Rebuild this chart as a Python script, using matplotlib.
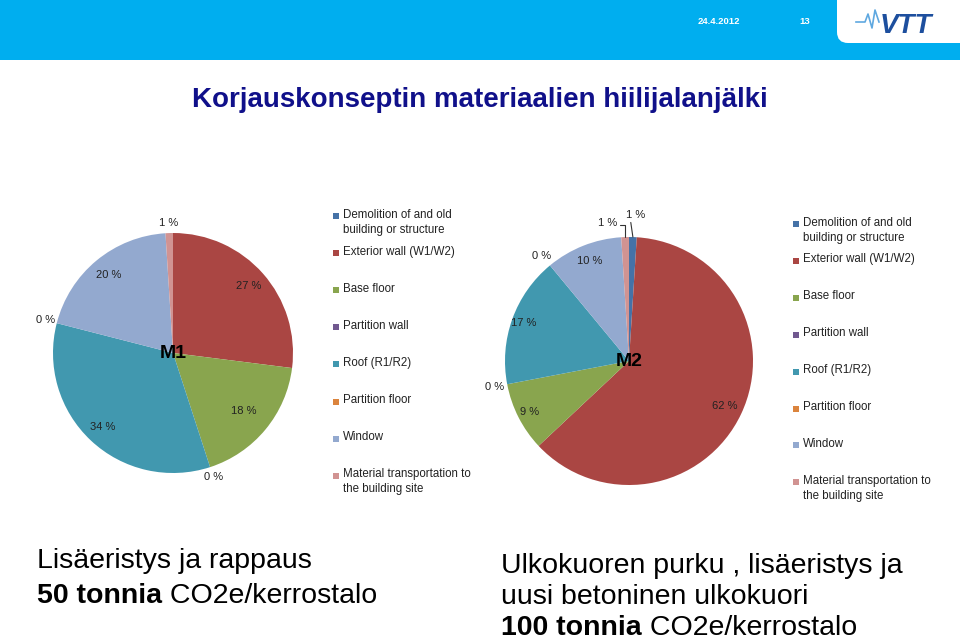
import matplotlib
matplotlib.use("Agg")
import matplotlib.pyplot as plt
from matplotlib.patches import Rectangle, FancyBboxPatch
import numpy as np

plt.rcParams['font.family'] = ['Liberation Sans', 'DejaVu Sans']

# data
categories = ["Demolition of and old\nbuilding or structure",
              "Exterior wall (W1/W2)",
              "Base floor",
              "Partition wall",
              "Roof (R1/R2)",
              "Partition floor",
              "Window",
              "Material transportation to\nthe building site"]
colors = ['#4572A7', '#AA4643', '#89A54E', '#71588F',
          '#4198AF', '#DB843D', '#93A9CF', '#D19392']

m1_values = [0, 27, 18, 0, 34, 0, 20, 1]
m1_shown = [False, True, True, True, True, True, True, True]
m2_values = [1, 62, 9, 0, 17, 0, 10, 1]
m2_shown = [True] * 8

title = "Korjauskonseptin materiaalien hiilijalanjälki"
date_text = "24.4.2012"
page_no = "13"

W, H = 960, 642
fig = plt.figure(figsize=(W / 100, H / 100), dpi=100)
bg = fig.add_axes([0, 0, 1, 1])
bg.set_xlim(0, W)
bg.set_ylim(H, 0)
bg.axis('off')

# header band with the white notch for the logo
bg.add_patch(Rectangle((0, 0), W, 60, color='#00AEEF', lw=0))
bg.add_patch(FancyBboxPatch((837, -40), 160, 83, boxstyle="round,pad=0,rounding_size=11",
                            fc='white', ec='none'))
bg.text(719, 22, date_text, color='white', fontsize=6.8, fontweight='bold',
        ha='center', va='center')
bg.text(805, 22, page_no, color='white', fontsize=6.8, fontweight='bold',
        ha='center', va='center')
bg.plot([856, 865, 868, 872, 875, 879], [22, 22, 14, 28, 10, 22], color='#5fa8e0', lw=1.2)
bg.text(906, 26, "VTT", color='#1d4f9e', fontsize=20, fontweight='heavy',
        fontstyle='italic', ha='center', va='center')

bg.text(480, 100, title, color='#10108a', fontsize=20, fontweight='bold',
        ha='center', va='center')


def draw_pie(cx, cy, r, values, shown, label_r, name, leaders=None):
    ax = fig.add_axes([(cx - r) / W, (H - cy - r) / H, 2 * r / W, 2 * r / H])
    wedges, _ = ax.pie(values, colors=colors, startangle=90, counterclock=False,
                       radius=1, wedgeprops=dict(linewidth=0))
    ax.set_xlim(-1, 1)
    ax.set_ylim(-1, 1)
    ax.set_aspect('auto')
    ax.axis('off')
    for i, w in enumerate(wedges):
        if not shown[i]:
            continue
        mid = np.deg2rad((w.theta1 + w.theta2) / 2)
        txt = f"{values[i]} %"
        if leaders and i in leaders:
            tx, ty, rel, conn = leaders[i]
            ax.annotate(txt, xy=(np.cos(mid), np.sin(mid)), xytext=(tx, ty),
                        fontsize=8, color='#222222', ha='center', va='center',
                        annotation_clip=False,
                        arrowprops=dict(arrowstyle='-', color='#333333', lw=0.8,
                                        shrinkA=0, shrinkB=0, relpos=rel,
                                        connectionstyle=conn))
        else:
            lr = label_r[i]
            ax.text(lr * np.cos(mid), lr * np.sin(mid), txt, fontsize=8,
                    color='#222222', ha='center', va='center', clip_on=False)
    ax.text(0, 0, name, fontsize=14, fontweight='bold', ha='center', va='center')


draw_pie(173, 353, 120, m1_values, m1_shown,
         [None, 0.84, 0.76, 1.09, 0.85, 1.1, 0.84, 1.08], "M1")
draw_pie(629, 361, 124, m2_values, m2_shown,
         [1.18, 0.85, 0.9, 1.1, 0.9, 1.1, 0.87, 1.1], "M2",
         leaders={0: (0.05, 1.18, (0.25, 0.0), "arc3"),
                  7: (-0.17, 1.11, (1.0, 0.3), "angle,angleA=0,angleB=90,rad=0")})


def draw_legend(mx, y0, step):
    for i, lab in enumerate(categories):
        y = y0 + i * step
        bg.add_patch(Rectangle((mx - 3, y - 3), 6, 6, color=colors[i], lw=0))
        bg.text(mx + 7, y - 7.5, lab, fontsize=8.3, color='#222222',
                ha='left', va='top', linespacing=1.35)


draw_legend(336, 216, 37.1)
draw_legend(796, 224, 36.9)

FS = 20.5


def mixed_line(x, y, bold, normal):
    t = bg.text(x, y, bold, fontsize=FS, fontweight='bold', ha='left',
                va='baseline', color='black')
    bg.annotate(" " + normal, xy=(1, 0), xycoords=t, fontsize=FS,
                ha='left', va='bottom', color='black')


bg.text(37, 568, "Lisäeristys ja rappaus", fontsize=FS, ha='left', va='baseline')
mixed_line(37, 603, "50 tonnia", "CO2e/kerrostalo")

bg.text(501, 573, "Ulkokuoren purku , lisäeristys ja", fontsize=FS, ha='left', va='baseline')
bg.text(501, 604, "uusi betoninen ulkokuori", fontsize=FS, ha='left', va='baseline')
mixed_line(501, 635, "100 tonnia", "CO2e/kerrostalo")

fig.savefig("out.png", dpi=100)
